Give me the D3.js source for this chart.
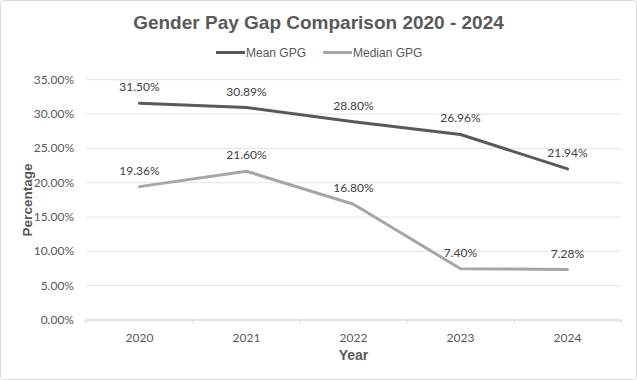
<!DOCTYPE html>
<html><head><meta charset="utf-8">
<script src="https://cdn.jsdelivr.net/npm/d3@7"></script>
<style>html,body{margin:0;padding:0;background:#fff;}svg{display:block;}</style>
</head><body>
<svg id="chart" width="637" height="380"></svg>
<script>
const years = ["2020", "2021", "2022", "2023", "2024"];
const meanGPG = [31.50, 30.89, 28.80, 26.96, 21.94];
const medianGPG = [19.36, 21.60, 16.80, 7.40, 7.28];
const yTicks = [0, 5, 10, 15, 20, 25, 30, 35];
const seriesNames = ["Mean GPG", "Median GPG"];
const seriesColors = ["#595959", "#a6a6a6"];
const title = "Gender Pay Gap Comparison 2020 - 2024";

const svg = d3.select("#chart");
const W = 637, H = 380;
const m = {left: 86, right: 16, top: 79.3, bottom: 60.5};

svg.append("rect").attr("x", 0.5).attr("y", 0.5).attr("width", W - 1).attr("height", H - 1)
  .attr("rx", 3).attr("fill", "#fff").attr("stroke", "#d9d9d9");

const x = d3.scaleBand().domain(years).range([m.left, W - m.right]).padding(0);
const y = d3.scaleLinear().domain([0, 35]).range([H - m.bottom, m.top]);

// gridlines
const yAxis = d3.axisLeft(y).tickValues(yTicks).tickSize(-(W - m.right - m.left)).tickPadding(12)
  .tickFormat(d => d.toFixed(2) + "%");
const gy = svg.append("g").attr("transform", `translate(${m.left},0)`).call(yAxis);
gy.select(".domain").remove();
gy.selectAll(".tick line").attr("stroke", "#e3e3e3").attr("stroke-width", 1);
gy.selectAll(".tick text").attr("fill", "#595959").attr("font-family", "Lato, sans-serif").attr("font-size", "12px");

// x axis
const xAxis = d3.axisBottom(x).tickSize(0).tickPadding(14);
const gx = svg.append("g").attr("transform", `translate(0,${y(0)})`).call(xAxis);
gx.select(".domain").attr("stroke", "#d9d9d9");
gx.selectAll(".tick text").attr("fill", "#595959").attr("font-family", "Lato, sans-serif").attr("font-size", "12px");
// category boundary tick marks
const bounds = years.map(d => x(d)).concat([x(years[years.length - 1]) + x.bandwidth()]);
svg.append("g").selectAll("line").data(bounds).join("line")
  .attr("x1", d => d).attr("x2", d => d).attr("y1", y(0)).attr("y2", y(0) + 4)
  .attr("stroke", "#d9d9d9");

const cx = d => x(d) + x.bandwidth() / 2;
const line = d3.line().x((d, i) => cx(years[i])).y(d => y(d));
const allSeries = [meanGPG, medianGPG];

allSeries.forEach((s, k) => {
  svg.append("path").datum(s).attr("d", line).attr("fill", "none")
    .attr("stroke", seriesColors[k]).attr("stroke-width", 3)
    .attr("stroke-linejoin", "round").attr("stroke-linecap", "round");
  svg.append("g").selectAll("text").data(s).join("text")
    .attr("x", (d, i) => cx(years[i])).attr("y", d => y(d) - 12)
    .attr("text-anchor", "middle").attr("fill", "#404040")
    .attr("font-family", "Lato, sans-serif").attr("font-size", "12px")
    .text(d => d.toFixed(2) + "%");
});

// title
svg.append("text").attr("x", 318.5).attr("y", 28.5).attr("text-anchor", "middle")
  .attr("fill", "#595959").attr("font-family", "'Liberation Sans', Arial, sans-serif")
  .attr("font-weight", "bold").attr("font-size", "19px").text(title);

// legend
const legX = [216, 323];
seriesNames.forEach((n, k) => {
  svg.append("line").attr("x1", legX[k]).attr("x2", legX[k] + 29).attr("y1", 52.5).attr("y2", 52.5)
    .attr("stroke", seriesColors[k]).attr("stroke-width", 3);
  svg.append("text").attr("x", legX[k] + 30).attr("y", 57)
    .attr("fill", "#595959").attr("font-family", "'Liberation Sans', Arial, sans-serif")
    .attr("font-size", "12px").text(n);
});

// axis titles
svg.append("text").attr("x", 353.5).attr("y", 360).attr("text-anchor", "middle")
  .attr("fill", "#595959").attr("font-family", "'Liberation Sans', Arial, sans-serif")
  .attr("font-weight", "bold").attr("font-size", "14px").text("Year");
svg.append("text").attr("transform", "translate(32,200) rotate(-90)").attr("text-anchor", "middle")
  .attr("fill", "#595959").attr("font-family", "'Liberation Sans', Arial, sans-serif")
  .attr("font-weight", "bold").attr("font-size", "13.5px").text("Percentage");
</script>
</body></html>
